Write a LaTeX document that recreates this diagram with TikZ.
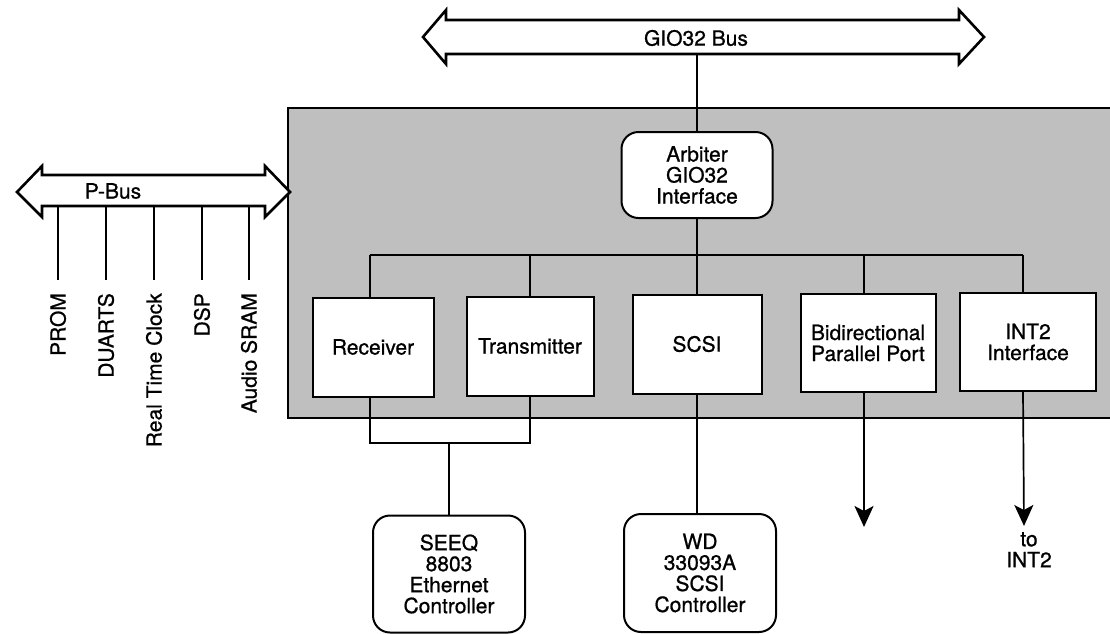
\documentclass[tikz,border=0pt]{standalone}
\usepackage{fontspec}
\setmainfont{TeX Gyre Heros}[UprightFeatures={FakeBold=0.8}]
\usetikzlibrary{arrows.meta}
\definecolor{boardgray}{gray}{0.75}
\begin{document}
\begin{tikzpicture}[x=1pt,y=-1pt,
  txt/.style={font=\fontsize{21}{21}\selectfont, align=center, inner sep=0pt},
  unit/.style={txt, draw, line width=2pt, fill=white},
  chip/.style={unit, rounded corners=17pt},
  wire/.style={line width=1.7pt},
  bus/.style={line width=2.6pt, fill=white, line join=miter},
  outarrow/.style={wire, -{Stealth[length=21pt,width=19pt,inset=5pt]}}]
\useasboundingbox (0,0) rectangle (1110,633);

% shaded I/O controller area (open at the right margin)
\fill[boardgray] (288,108) rectangle (1112,418);
\draw[line width=2pt] (1112,108) -- (288,108) -- (288,418) -- (1112,418);

% GIO32 bus
\draw[bus] (423,37) -- (446,10) -- (446,20) -- (959,20) -- (959,10) -- (984,37)
  -- (959,64) -- (959,54) -- (446,54) -- (446,64) -- cycle;
\node[txt] (gio) at (696,38) {GIO32 Bus};
\coordinate (giotap) at (697,54);

% P-Bus
\draw[bus] (17,192) -- (42,166) -- (42,175) -- (265,175) -- (265,166) -- (290,192)
  -- (265,217) -- (265,206) -- (42,206) -- (42,217) -- cycle;
\node[txt] (pbus) at (113,191) {P-Bus};

% devices on the P-Bus
\foreach \x/\name/\lab in {58/prom/PROM, 106/duarts/DUARTS, 154/rtc/Real Time Clock,
                           202/dsp/DSP, 249/sram/Audio SRAM}{
  \coordinate (\name-tap) at (\x,206);
  \node[txt, rotate=90, anchor=east] (\name) at (\x,293) {\lab};
  \draw[wire] (\name-tap) -- (\x,280);
}

% arbiter and the internal units
\node[chip, minimum width=151pt, minimum height=86pt] (arb) at (697,175) {Arbiter\\GIO32\\Interface};
\node[unit, minimum width=121pt, minimum height=99pt] (rec) at (373,347) {Receiver};
\node[unit, minimum width=127pt, minimum height=99pt] (tx)  at (530,346) {Transmitter};
\node[unit, minimum width=129pt, minimum height=99pt] (scsi) at (697,344) {SCSI};
\node[unit, minimum width=135pt, minimum height=98pt] (bid) at (868,343) {Bidirectional\\Parallel Port};
\node[unit, minimum width=136pt, minimum height=98pt] (int) at (1028,342) {INT2\\Interface};

% external controllers
\node[chip, minimum width=152pt, minimum height=117pt] (seeq) at (449,574) {SEEQ\\8803\\Ethernet\\Controller};
\node[chip, minimum width=152pt, minimum height=118pt] (wd) at (700,573) {WD\\33093A\\SCSI\\Controller};

% internal distribution line
\coordinate (jr) at (370,255);
\coordinate (jt) at (530,255);
\coordinate (js) at (697,255);
\coordinate (jb) at (864,255);
\coordinate (ji) at (1023,255);
\draw[wire] (giotap) -- (arb.north);
\draw[wire] (arb.south) -- (js);
\draw[wire] (jr) -- (ji);
\draw[wire] (jr) -- (jr |- rec.north);
\draw[wire] (jt) -- (jt |- tx.north);
\draw[wire] (js) -- (scsi.north);
\draw[wire] (jb) -- (jb |- bid.north);
\draw[wire] (ji) -- (ji |- int.north);

% Ethernet: receiver and transmitter joined to the SEEQ controller
\coordinate (er) at (370,443);
\coordinate (et) at (530,443);
\draw[wire] (jr |- rec.south) -- (er) -- (et) -- (jt |- tx.south);
\draw[wire] (seeq.north) -- (seeq.north |- er);

% SCSI controller
\draw[wire] (scsi.south) -- (scsi.south |- wd.north);

% outgoing ports
\coordinate (bidout) at (864,527);
\coordinate (intout) at (1024,526);
\draw[outarrow] (jb |- bid.south) -- (bidout);
\draw[outarrow] (ji |- int.south) -- (intout);
\node[txt, anchor=north] (toint) at (1029,532) {to\\INT2};
\end{tikzpicture}
\end{document}
